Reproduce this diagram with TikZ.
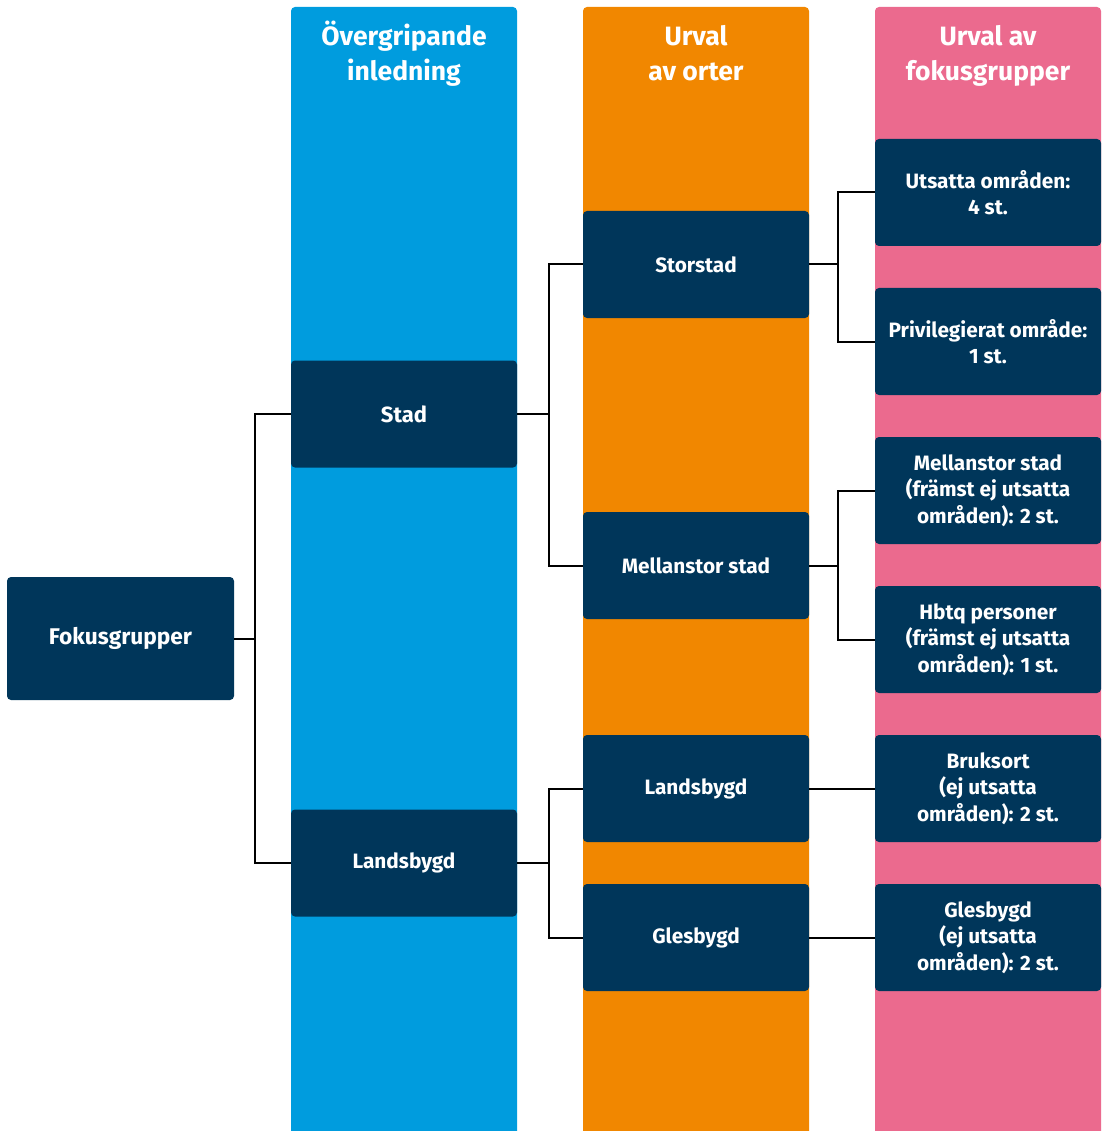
\documentclass[tikz,border=0pt]{standalone}
\usepackage{fontspec}
\setmainfont{Fira Sans}
\usetikzlibrary{positioning}

\definecolor{navy}{HTML}{00365A}
\definecolor{colblue}{HTML}{009CDE}
\definecolor{colorange}{HTML}{F18700}
\definecolor{colpink}{HTML}{EB6A8E}

\tikzset{
  box/.style={fill=navy, rounded corners=4pt, text=white, align=center,
    minimum width=226pt, minimum height=107pt, inner sep=0pt,
    font=\fontsize{20.8}{26.5}\selectfont\bfseries},
  head/.style={text=white, align=center, anchor=north, inner sep=0pt,
    font=\fontsize{26.5}{35}\selectfont\bfseries},
  conn/.style={line width=2pt, black}
}

\begin{document}
\begin{tikzpicture}[x=1pt,y=-1pt]
  \clip (0,0) rectangle (1105,1131);
  % columns
  \fill[colblue, rounded corners=4pt] (291,7) rectangle (517,1150);
  \fill[colorange, rounded corners=4pt] (583,7) rectangle (809,1150);
  \fill[colpink, rounded corners=4pt] (875,7) rectangle (1101,1150);
  \node[head] (hinl) at (404,21) {\strut Övergripande\\inledning};
  \node[head] (horter) at (696,21) {\strut Urval\\av orter};
  \node[head] (hfokus) at (988,21) {\strut Urval av\\fokusgrupper};

  \node[box, minimum width=227pt, minimum height=123pt, font=\fontsize{22.7}{26}\selectfont\bfseries] (fokus) at (120.5,638.5) {Fokusgrupper};

  \node[box, font=\fontsize{22}{26}\selectfont\bfseries] (stad) at (404,414) {Stad};
  \node[box] (lands) at (404,863) {Landsbygd};

  \node[box] (storstad) at (696,264.5) {Storstad};
  \node[box] (mellan) at (696,565.5) {Mellanstor stad};
  \node[box] (landsb) at (696,788.5) {Landsbygd};
  \node[box] (gles) at (696,937.5) {Glesbygd};

  \node[box] (utsatta) at (988,192.5) {Utsatta områden:\\4 st.};
  \node[box] (priv) at (988,341.5) {Privilegierat område:\\1 st.};
  \node[box] (mellanst) at (988,490.5) {Mellanstor stad\\(främst ej utsatta\\områden): 2 st.};
  \node[box] (hbtq) at (988,639.5) {Hbtq personer\\(främst ej utsatta\\områden): 1 st.};
  \node[box] (bruk) at (988,788.5) {Bruksort\\(ej utsatta\\områden): 2 st.};
  \node[box] (glesf) at (988,937.5) {Glesbygd\\(ej utsatta\\områden): 2 st.};

  % connectors
  \draw[conn] (fokus.east) -- ++(21,0);
  \draw[conn] (stad.west) -- ++(-36,0) |- (lands.west);
  \draw[conn] (stad.east) -- ++(32,0);
  \draw[conn] (storstad.west) -- ++(-34,0) |- (mellan.west);
  \draw[conn] (lands.east) -- ++(32,0);
  \draw[conn] (landsb.west) -- ++(-34,0) |- (gles.west);
  \draw[conn] (storstad.east) -- ++(29,0);
  \draw[conn] (utsatta.west) -- ++(-37,0) |- (priv.west);
  \draw[conn] (mellan.east) -- ++(29,0);
  \draw[conn] (mellanst.west) -- ++(-37,0) |- (hbtq.west);
  \draw[conn] (landsb.east) -- (bruk.west);
  \draw[conn] (gles.east) -- (glesf.west);
\end{tikzpicture}
\end{document}
